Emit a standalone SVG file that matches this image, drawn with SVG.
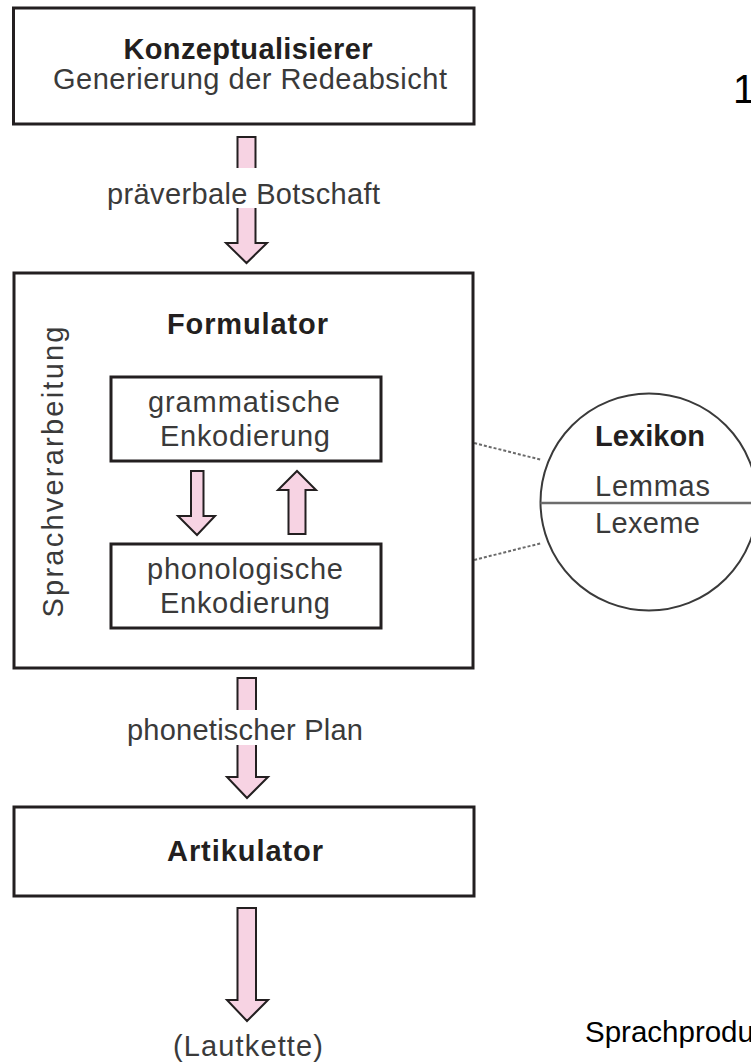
<svg xmlns="http://www.w3.org/2000/svg" width="751" height="1064" viewBox="0 0 751 1064">
<style>
.box{fill:#fff;stroke:#231f20;stroke-width:3}
.arrow{fill:#f7d3e3;stroke:#231f20;stroke-width:2;stroke-linejoin:miter}
.t{font-family:"Liberation Sans",Arial,sans-serif;font-size:29px;fill:#3a3a3a}
.b{font-family:"Liberation Sans",Arial,sans-serif;font-size:29px;font-weight:bold;fill:#231f20}
.m{text-anchor:middle}
.dash{stroke:#6a6a6a;stroke-width:2;stroke-dasharray:3 2;fill:none}
.plain{font-family:"Liberation Sans",Arial,sans-serif;fill:#000}
</style>
<rect width="751" height="1064" fill="#fff"/>

<g id="connectors">
  <polygon class="arrow" points="237.5,137 255.5,137 255.5,243 267,243 246.5,263 226,243 237.5,243"/>
  <rect x="230" y="168" width="33" height="40" fill="#fff"/>
  <polygon class="arrow" points="237.5,678 256,678 256,777 268,777 247,798 227,777 237.5,777"/>
  <rect x="230" y="710" width="33" height="35" fill="#fff"/>
  <polygon class="arrow" points="237.5,908 256,908 256,1000 268,1000 247,1021 227,1000 237.5,1000"/>
  <line class="dash" x1="382" y1="420" x2="542" y2="460"/>
  <line class="dash" x1="382" y1="583" x2="542" y2="543"/>
</g>

<g id="konzeptualisierer">
  <rect class="box" x="13.5" y="8" width="460.5" height="116"/>
  <text class="b m" x="248" y="59" textLength="249">Konzeptualisierer</text>
  <text class="t m" x="250" y="89" textLength="394">Generierung der Redeabsicht</text>
</g>

<g id="label-praeverbal">
  <text class="t m" x="243.5" y="204" textLength="273">präverbale Botschaft</text>
</g>

<g id="formulator">
  <rect class="box" x="14" y="273" width="459" height="395" fill="none"/>
  <text class="b m" x="247.5" y="334" textLength="161">Formulator</text>
  <text class="t m" transform="translate(63,472) rotate(-90)" x="0" y="0" font-size="31" textLength="291">Sprachverarbeitung</text>
</g>

<g id="grammatische">
  <rect class="box" x="111" y="377" width="270" height="84"/>
  <text class="t m" x="244" y="412" textLength="192">grammatische</text>
  <text class="t m" x="245" y="446" textLength="170">Enkodierung</text>
</g>

<g id="inner-arrows">
  <polygon class="arrow" points="191,471 203.5,471 203.5,516 215,516 197,535 178,516 191,516"/>
  <polygon class="arrow" points="288.5,534 305.5,534 305.5,490 316,490 297,471 278,490 288.5,490"/>
</g>

<g id="phonologische">
  <rect class="box" x="111" y="544" width="270" height="84"/>
  <text class="t m" x="245" y="579" textLength="196">phonologische</text>
  <text class="t m" x="245" y="613" textLength="170">Enkodierung</text>
</g>

<g id="lexikon">
  <circle cx="649" cy="502" r="108.5" fill="none" stroke="#3a3a3a" stroke-width="2"/>
  <line x1="540.5" y1="503" x2="751" y2="503" stroke="#6d6d6d" stroke-width="2.5"/>
  <text class="b" x="595" y="446" textLength="110">Lexikon</text>
  <text class="t" x="595" y="496" textLength="115">Lemmas</text>
  <text class="t" x="595" y="533" textLength="105">Lexeme</text>
</g>

<g id="label-phonetisch">
  <text class="t m" x="245" y="740" textLength="236">phonetischer Plan</text>
</g>

<g id="artikulator">
  <rect class="box" x="14" y="807" width="460" height="89"/>
  <text class="b m" x="245" y="861" textLength="156">Artikulator</text>
</g>

<g id="lautkette">
  <text class="t m" x="248" y="1056" textLength="150">(Lautkette)</text>
</g>

<g id="captions">
  <text class="plain" x="733" y="103" font-size="40">1</text>
  <text class="plain" x="585" y="1042" font-size="29.5">Sprachprodu</text>
</g>
</svg>
